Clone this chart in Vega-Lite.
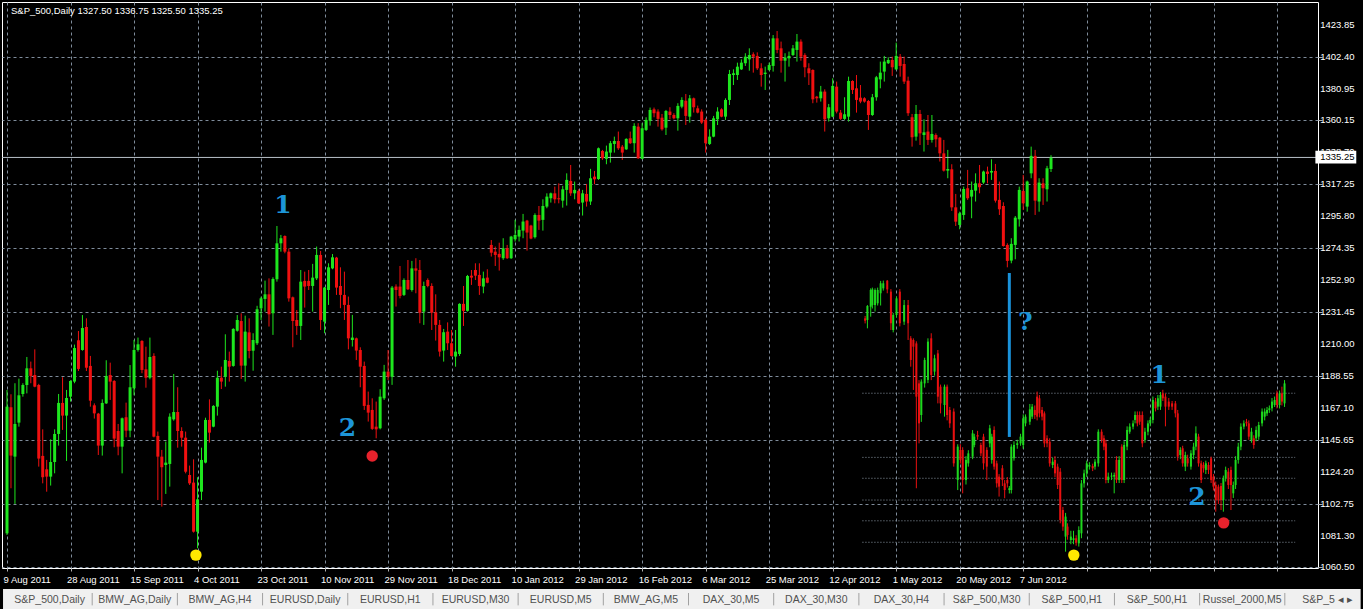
{
"$schema":"https://vega.github.io/schema/vega-lite/v6.json",
"width":1316,"height":566,
"autosize":{"type":"none"},
"padding":{"left":2,"top":2,"right":45,"bottom":41},
"background":"#000000",
"config":{"view":{"stroke":"#ffffff","strokeWidth":1},"font":"Liberation Sans",
 "axis":{"labelOverlap":false,"labelBound":false,"labelFlush":false,"grid":true,"gridColor":"#7f8c9b","gridDash":[3,3],"gridOpacity":1,"domain":false,"tickColor":"#b0b0b0","labelColor":"#ffffff"},
 "axisX":{"tickSize":3,"labelAlign":"left","labelPadding":3},
 "axisY":{"tickSize":4,"labelPadding":2}},
"datasets":{
"main":[
{"i":0,"o":1083.3,"h":1179.4,"l":1082.2,"c":1168.2},{"i":1,"o":1167.8,"h":1176.5,"l":1113.5,"c":1135.4},{"i":2,"o":1134.7,"h":1183.9,"l":1103.0,"c":1156.6},{"i":3,"o":1157.5,"h":1187.0,"l":1154.8,"c":1175.8},{"i":4,"o":1176.7,"h":1183.9,"l":1174.9,"c":1182.7},{"i":5,"o":1182.7,"h":1201.5,"l":1177.1,"c":1193.9},{"i":6,"o":1193.9,"h":1198.4,"l":1183.9,"c":1188.8},{"i":7,"o":1189.4,"h":1206.6,"l":1181.2,"c":1181.6},{"i":8,"o":1182.7,"h":1183.5,"l":1128.0,"c":1133.4},{"i":9,"o":1135.2,"h":1153.0,"l":1116.8,"c":1120.9},
{"i":10,"o":1126.2,"h":1132.5,"l":1111.2,"c":1121.3},{"i":11,"o":1121.3,"h":1146.3,"l":1115.3,"c":1131.1},{"i":12,"o":1131.1,"h":1153.0,"l":1123.5,"c":1149.9},{"i":13,"o":1149.9,"h":1176.7,"l":1142.1,"c":1170.7},{"i":14,"o":1170.7,"h":1187.9,"l":1152.6,"c":1162.2},{"i":15,"o":1162.2,"h":1179.4,"l":1131.8,"c":1174.0},{"i":16,"o":1174.9,"h":1185.9,"l":1171.6,"c":1185.4},{"i":17,"o":1185.0,"h":1209.8,"l":1183.9,"c":1207.5},{"i":18,"o":1212.7,"h":1218.9,"l":1192.1,"c":1193.5},{"i":19,"o":1206.2,"h":1229.6,"l":1205.7,"c":1220.9},
{"i":20,"o":1221.6,"h":1227.4,"l":1192.1,"c":1194.3},{"i":21,"o":1195.5,"h":1202.2,"l":1168.2,"c":1172.2},{"i":22,"o":1169.1,"h":1170.4,"l":1160.2,"c":1163.7},{"i":23,"o":1163.5,"h":1164.0,"l":1135.8,"c":1142.1},{"i":24,"o":1142.1,"h":1173.1,"l":1135.4,"c":1170.7},{"i":25,"o":1170.4,"h":1199.3,"l":1170.0,"c":1188.8},{"i":26,"o":1189.4,"h":1197.7,"l":1172.7,"c":1185.0},{"i":27,"o":1185.4,"h":1186.0,"l":1141.0,"c":1146.8},{"i":28,"o":1151.9,"h":1156.6,"l":1135.6,"c":1141.4},{"i":29,"o":1141.4,"h":1160.9,"l":1123.5,"c":1160.4},
{"i":30,"o":1161.1,"h":1170.9,"l":1147.7,"c":1152.1},{"i":31,"o":1152.1,"h":1196.1,"l":1147.7,"c":1181.2},{"i":32,"o":1180.5,"h":1212.9,"l":1175.8,"c":1206.2},{"i":33,"o":1206.2,"h":1214.5,"l":1205.1,"c":1210.0},{"i":34,"o":1212.2,"h":1212.8,"l":1190.6,"c":1192.8},{"i":35,"o":1193.2,"h":1208.4,"l":1180.9,"c":1187.6},{"i":36,"o":1187.6,"h":1214.5,"l":1186.5,"c":1201.5},{"i":37,"o":1202.2,"h":1204.0,"l":1147.6,"c":1148.1},{"i":38,"o":1148.6,"h":1151.5,"l":1105.6,"c":1134.7},{"i":39,"o":1134.7,"h":1139.2,"l":1101.2,"c":1127.6},
{"i":40,"o":1129.1,"h":1144.8,"l":1109.7,"c":1130.7},{"i":41,"o":1129.8,"h":1163.7,"l":1114.6,"c":1161.5},{"i":42,"o":1159.7,"h":1190.1,"l":1158.8,"c":1164.6},{"i":43,"o":1164.6,"h":1181.2,"l":1140.7,"c":1151.9},{"i":44,"o":1151.9,"h":1154.4,"l":1141.4,"c":1147.4},{"i":45,"o":1147.4,"h":1151.5,"l":1123.5,"c":1124.6},{"i":46,"o":1122.4,"h":1128.7,"l":1115.7,"c":1116.8},{"i":47,"o":1117.3,"h":1132.9,"l":1083.8,"c":1084.4},{"i":48,"o":1084.4,"h":1120.9,"l":1073.3,"c":1106.1},{"i":49,"o":1111.2,"h":1140.7,"l":1105.6,"c":1132.5},
{"i":50,"o":1130.7,"h":1160.8,"l":1130.2,"c":1159.3},{"i":51,"o":1159.3,"h":1173.1,"l":1144.1,"c":1150.8},{"i":52,"o":1154.8,"h":1169.2,"l":1154.4,"c":1168.7},{"i":53,"o":1168.2,"h":1192.3,"l":1162.2,"c":1187.6},{"i":54,"o":1187.6,"h":1195.0,"l":1180.0,"c":1185.0},{"i":55,"o":1188.3,"h":1216.7,"l":1181.6,"c":1199.5},{"i":56,"o":1198.8,"h":1205.1,"l":1185.0,"c":1195.0},{"i":57,"o":1195.5,"h":1220.8,"l":1195.0,"c":1220.3},{"i":58,"o":1219.1,"h":1229.6,"l":1218.5,"c":1226.3},{"i":59,"o":1225.6,"h":1230.8,"l":1186.8,"c":1195.7},
{"i":60,"o":1195.7,"h":1229.2,"l":1185.0,"c":1218.5},{"i":61,"o":1218.0,"h":1227.4,"l":1200.6,"c":1205.5},{"i":62,"o":1205.7,"h":1217.4,"l":1192.3,"c":1212.9},{"i":63,"o":1210.7,"h":1235.8,"l":1209.5,"c":1233.5},{"i":64,"o":1234.1,"h":1241.9,"l":1226.3,"c":1240.8},{"i":65,"o":1240.4,"h":1252.7,"l":1231.9,"c":1243.5},{"i":66,"o":1243.5,"h":1254.2,"l":1221.9,"c":1230.1},{"i":67,"o":1230.8,"h":1254.9,"l":1216.3,"c":1253.8},{"i":68,"o":1253.6,"h":1289.3,"l":1252.0,"c":1277.7},{"i":69,"o":1277.7,"h":1283.3,"l":1272.1,"c":1281.1},
{"i":70,"o":1282.6,"h":1283.0,"l":1271.0,"c":1272.1},{"i":71,"o":1272.1,"h":1274.3,"l":1238.6,"c":1240.8},{"i":72,"o":1241.5,"h":1242.0,"l":1208.0,"c":1225.6},{"i":73,"o":1226.3,"h":1233.0,"l":1216.3,"c":1222.3},{"i":74,"o":1222.3,"h":1259.8,"l":1212.9,"c":1252.0},{"i":75,"o":1252.5,"h":1258.7,"l":1234.6,"c":1248.7},{"i":76,"o":1252.5,"h":1259.8,"l":1246.4,"c":1249.1},{"i":77,"o":1249.1,"h":1263.9,"l":1231.9,"c":1254.7},{"i":78,"o":1254.2,"h":1275.5,"l":1253.1,"c":1269.9},{"i":79,"o":1269.9,"h":1272.6,"l":1219.6,"c":1226.3},
{"i":80,"o":1225.2,"h":1248.5,"l":1217.4,"c":1248.0},{"i":81,"o":1246.4,"h":1264.3,"l":1236.4,"c":1261.6},{"i":82,"o":1260.9,"h":1270.5,"l":1260.3,"c":1268.3},{"i":83,"o":1268.1,"h":1268.6,"l":1243.1,"c":1248.0},{"i":84,"o":1249.1,"h":1261.6,"l":1234.2,"c":1243.1},{"i":85,"o":1243.1,"h":1258.7,"l":1226.3,"c":1236.4},{"i":86,"o":1236.4,"h":1242.0,"l":1206.6,"c":1214.0},{"i":87,"o":1212.9,"h":1229.7,"l":1208.5,"c":1214.5},{"i":88,"o":1214.0,"h":1214.5,"l":1199.5,"c":1205.8},{"i":89,"o":1206.2,"h":1208.0,"l":1181.2,"c":1195.0},
{"i":90,"o":1195.5,"h":1198.4,"l":1166.0,"c":1168.7},{"i":91,"o":1169.4,"h":1178.3,"l":1158.2,"c":1164.2},{"i":92,"o":1166.0,"h":1173.8,"l":1152.6,"c":1153.3},{"i":93,"o":1154.8,"h":1171.6,"l":1147.0,"c":1153.0},{"i":94,"o":1153.7,"h":1179.9,"l":1153.0,"c":1174.9},{"i":95,"o":1173.8,"h":1196.2,"l":1172.7,"c":1191.7},{"i":96,"o":1191.7,"h":1206.2,"l":1186.1,"c":1188.3},{"i":97,"o":1188.3,"h":1249.1,"l":1182.8,"c":1248.0},{"i":98,"o":1248.7,"h":1250.2,"l":1235.3,"c":1246.4},{"i":99,"o":1248.7,"h":1262.5,"l":1240.8,"c":1242.4},
{"i":100,"o":1243.1,"h":1254.2,"l":1242.4,"c":1253.1},{"i":101,"o":1253.1,"h":1266.5,"l":1246.4,"c":1246.9},{"i":102,"o":1246.4,"h":1265.9,"l":1245.3,"c":1260.9},{"i":103,"o":1260.9,"h":1267.7,"l":1244.2,"c":1259.4},{"i":104,"o":1259.8,"h":1266.5,"l":1224.1,"c":1231.2},{"i":105,"o":1231.9,"h":1252.0,"l":1223.0,"c":1249.1},{"i":106,"o":1253.1,"h":1254.2,"l":1248.2,"c":1249.1},{"i":107,"o":1249.1,"h":1250.9,"l":1219.6,"c":1231.2},{"i":108,"o":1231.4,"h":1243.5,"l":1212.5,"c":1223.0},{"i":109,"o":1223.0,"h":1226.3,"l":1201.8,"c":1205.1},
{"i":110,"o":1205.8,"h":1220.3,"l":1198.4,"c":1218.1},{"i":111,"o":1218.5,"h":1224.7,"l":1206.2,"c":1210.7},{"i":112,"o":1210.7,"h":1219.6,"l":1201.8,"c":1202.2},{"i":113,"o":1201.8,"h":1219.6,"l":1195.0,"c":1205.1},{"i":114,"o":1203.5,"h":1237.5,"l":1202.2,"c":1237.1},{"i":115,"o":1237.1,"h":1249.1,"l":1222.3,"c":1232.4},{"i":116,"o":1232.4,"h":1256.5,"l":1231.9,"c":1255.8},{"i":117,"o":1256.0,"h":1259.8,"l":1249.8,"c":1254.7},{"i":118,"o":1259.8,"h":1264.3,"l":1253.1,"c":1256.0},{"i":119,"o":1256.5,"h":1264.3,"l":1243.1,"c":1249.1},
{"i":120,"o":1248.7,"h":1258.7,"l":1244.2,"c":1254.2},{"i":121,"o":1254.7,"h":1260.3,"l":1250.9,"c":1251.3},{"i":122,"o":1276.6,"h":1279.9,"l":1268.8,"c":1271.4},{"i":123,"o":1272.1,"h":1275.5,"l":1262.5,"c":1269.9},{"i":124,"o":1270.6,"h":1278.1,"l":1259.4,"c":1268.3},{"i":125,"o":1267.7,"h":1281.1,"l":1266.6,"c":1274.4},{"i":126,"o":1274.4,"h":1276.6,"l":1267.2,"c":1267.7},{"i":127,"o":1267.7,"h":1282.7,"l":1267.2,"c":1282.2},{"i":128,"o":1280.4,"h":1293.4,"l":1278.9,"c":1283.3},{"i":129,"o":1282.2,"h":1289.6,"l":1278.9,"c":1286.7},
{"i":130,"o":1286.2,"h":1297.4,"l":1281.1,"c":1292.3},{"i":131,"o":1292.9,"h":1293.4,"l":1272.8,"c":1284.9},{"i":132,"o":1289.6,"h":1290.1,"l":1280.4,"c":1280.9},{"i":133,"o":1281.8,"h":1297.8,"l":1280.9,"c":1296.7},{"i":134,"o":1296.7,"h":1302.7,"l":1286.7,"c":1292.9},{"i":135,"o":1293.4,"h":1307.2,"l":1286.2,"c":1302.7},{"i":136,"o":1302.3,"h":1311.2,"l":1301.2,"c":1309.0},{"i":137,"o":1307.9,"h":1311.7,"l":1305.0,"c":1311.2},{"i":138,"o":1311.2,"h":1315.7,"l":1304.5,"c":1307.2},{"i":139,"o":1307.9,"h":1317.9,"l":1304.5,"c":1307.2},
{"i":140,"o":1306.3,"h":1316.2,"l":1301.6,"c":1313.9},{"i":141,"o":1313.5,"h":1324.6,"l":1303.0,"c":1320.2},{"i":142,"o":1319.5,"h":1330.2,"l":1309.5,"c":1311.2},{"i":143,"o":1311.2,"h":1319.1,"l":1307.2,"c":1313.5},{"i":144,"o":1312.8,"h":1313.9,"l":1304.1,"c":1304.5},{"i":145,"o":1305.0,"h":1313.5,"l":1296.3,"c":1311.2},{"i":146,"o":1310.8,"h":1317.5,"l":1302.3,"c":1305.7},{"i":147,"o":1305.7,"h":1327.6,"l":1303.4,"c":1321.3},{"i":148,"o":1322.4,"h":1326.2,"l":1317.3,"c":1320.6},{"i":149,"o":1320.8,"h":1341.9,"l":1320.2,"c":1341.4},
{"i":150,"o":1339.6,"h":1340.3,"l":1333.6,"c":1334.7},{"i":151,"o":1334.3,"h":1343.2,"l":1330.7,"c":1339.2},{"i":152,"o":1338.5,"h":1346.3,"l":1331.8,"c":1344.8},{"i":153,"o":1344.3,"h":1349.2,"l":1338.5,"c":1346.3},{"i":154,"o":1346.3,"h":1352.6,"l":1340.3,"c":1341.4},{"i":155,"o":1342.5,"h":1343.6,"l":1333.6,"c":1338.5},{"i":156,"o":1340.7,"h":1348.1,"l":1340.3,"c":1347.7},{"i":157,"o":1348.1,"h":1352.6,"l":1344.3,"c":1344.8},{"i":158,"o":1344.8,"h":1358.2,"l":1338.5,"c":1356.4},{"i":159,"o":1355.9,"h":1358.2,"l":1334.3,"c":1334.7},
{"i":160,"o":1334.3,"h":1358.2,"l":1334.0,"c":1354.8},{"i":161,"o":1353.7,"h":1362.2,"l":1353.0,"c":1360.4},{"i":162,"o":1359.9,"h":1368.7,"l":1356.6,"c":1367.1},{"i":163,"o":1367.5,"h":1368.7,"l":1362.2,"c":1364.9},{"i":164,"o":1366.0,"h":1367.5,"l":1355.9,"c":1361.1},{"i":165,"o":1361.9,"h":1364.4,"l":1353.2,"c":1354.1},{"i":166,"o":1355.2,"h":1367.1,"l":1350.3,"c":1366.4},{"i":167,"o":1366.0,"h":1368.9,"l":1360.8,"c":1363.7},{"i":168,"o":1363.7,"h":1364.9,"l":1360.8,"c":1361.5},{"i":169,"o":1361.5,"h":1371.6,"l":1353.2,"c":1369.8},
{"i":170,"o":1369.3,"h":1375.6,"l":1368.2,"c":1373.8},{"i":171,"o":1373.3,"h":1377.8,"l":1357.0,"c":1363.1},{"i":172,"o":1362.6,"h":1377.1,"l":1358.6,"c":1374.9},{"i":173,"o":1374.9,"h":1375.4,"l":1365.3,"c":1368.9},{"i":174,"o":1368.2,"h":1370.0,"l":1364.8,"c":1365.3},{"i":175,"o":1366.0,"h":1367.5,"l":1357.7,"c":1358.6},{"i":176,"o":1360.4,"h":1361.5,"l":1338.5,"c":1344.8},{"i":177,"o":1344.3,"h":1354.1,"l":1343.6,"c":1349.2},{"i":178,"o":1349.2,"h":1363.1,"l":1348.8,"c":1361.5},{"i":179,"o":1360.8,"h":1368.9,"l":1357.0,"c":1366.0},
{"i":180,"o":1367.5,"h":1368.2,"l":1362.2,"c":1362.6},{"i":181,"o":1362.6,"h":1374.9,"l":1360.4,"c":1373.8},{"i":182,"o":1373.8,"h":1393.9,"l":1370.4,"c":1391.2},{"i":183,"o":1390.5,"h":1394.3,"l":1383.8,"c":1391.7},{"i":184,"o":1390.5,"h":1398.8,"l":1387.2,"c":1396.1},{"i":185,"o":1394.3,"h":1401.0,"l":1393.9,"c":1398.8},{"i":186,"o":1398.4,"h":1405.1,"l":1396.6,"c":1402.8},{"i":187,"o":1401.0,"h":1408.4,"l":1393.4,"c":1403.9},{"i":188,"o":1404.4,"h":1405.7,"l":1392.1,"c":1402.8},{"i":189,"o":1403.3,"h":1405.7,"l":1393.9,"c":1395.0},
{"i":190,"o":1395.0,"h":1398.4,"l":1382.7,"c":1390.5},{"i":191,"o":1391.2,"h":1396.1,"l":1380.5,"c":1392.1},{"i":192,"o":1393.9,"h":1398.8,"l":1393.4,"c":1397.2},{"i":193,"o":1396.6,"h":1417.3,"l":1392.8,"c":1415.1},{"i":194,"o":1415.1,"h":1420.0,"l":1405.1,"c":1407.3},{"i":195,"o":1408.4,"h":1412.9,"l":1392.1,"c":1400.1},{"i":196,"o":1400.1,"h":1405.1,"l":1386.1,"c":1402.2},{"i":197,"o":1401.7,"h":1406.2,"l":1396.1,"c":1403.3},{"i":198,"o":1403.9,"h":1410.6,"l":1403.3,"c":1408.4},{"i":199,"o":1407.3,"h":1418.0,"l":1399.5,"c":1412.9},
{"i":200,"o":1412.9,"h":1414.4,"l":1400.1,"c":1402.8},{"i":201,"o":1403.9,"h":1405.1,"l":1389.0,"c":1395.7},{"i":202,"o":1395.0,"h":1398.4,"l":1383.8,"c":1391.7},{"i":203,"o":1393.9,"h":1394.3,"l":1371.6,"c":1374.2},{"i":204,"o":1376.0,"h":1376.5,"l":1372.0,"c":1374.9},{"i":205,"o":1374.9,"h":1383.2,"l":1372.7,"c":1379.4},{"i":206,"o":1379.4,"h":1380.9,"l":1352.6,"c":1360.8},{"i":207,"o":1361.5,"h":1371.1,"l":1359.3,"c":1368.9},{"i":208,"o":1362.6,"h":1388.3,"l":1362.2,"c":1383.2},{"i":209,"o":1382.7,"h":1386.1,"l":1364.8,"c":1366.0},
{"i":210,"o":1365.3,"h":1367.1,"l":1360.4,"c":1361.1},{"i":211,"o":1361.1,"h":1375.6,"l":1360.4,"c":1364.2},{"i":212,"o":1362.6,"h":1389.4,"l":1359.3,"c":1386.5},{"i":213,"o":1386.5,"h":1387.0,"l":1377.8,"c":1380.5},{"i":214,"o":1381.6,"h":1390.5,"l":1365.3,"c":1373.8},{"i":215,"o":1375.3,"h":1383.8,"l":1371.6,"c":1372.7},{"i":216,"o":1374.9,"h":1375.6,"l":1372.0,"c":1372.7},{"i":217,"o":1373.1,"h":1373.8,"l":1353.7,"c":1363.7},{"i":218,"o":1363.7,"h":1377.8,"l":1363.1,"c":1375.6},{"i":219,"o":1375.6,"h":1389.9,"l":1373.3,"c":1389.0},
{"i":220,"o":1387.6,"h":1399.5,"l":1381.6,"c":1392.1},{"i":221,"o":1392.8,"h":1403.3,"l":1386.1,"c":1399.5},{"i":222,"o":1398.4,"h":1402.4,"l":1397.9,"c":1400.6},{"i":223,"o":1400.6,"h":1402.8,"l":1389.9,"c":1395.7},{"i":224,"o":1394.3,"h":1412.2,"l":1393.9,"c":1403.3},{"i":225,"o":1402.8,"h":1404.6,"l":1389.4,"c":1396.6},{"i":226,"o":1397.9,"h":1402.8,"l":1384.5,"c":1386.1},{"i":227,"o":1386.7,"h":1389.4,"l":1363.1,"c":1364.9},{"i":228,"o":1362.2,"h":1364.4,"l":1342.5,"c":1348.8},{"i":229,"o":1349.2,"h":1370.4,"l":1346.5,"c":1364.4},
{"i":230,"o":1364.4,"h":1367.1,"l":1343.6,"c":1351.4},{"i":231,"o":1350.3,"h":1360.8,"l":1339.2,"c":1352.1},{"i":232,"o":1352.6,"h":1363.7,"l":1343.6,"c":1347.0},{"i":233,"o":1347.0,"h":1363.7,"l":1345.2,"c":1351.0},{"i":234,"o":1350.3,"h":1351.4,"l":1342.1,"c":1347.4},{"i":235,"o":1348.5,"h":1349.0,"l":1332.5,"c":1338.0},{"i":236,"o":1338.0,"h":1347.0,"l":1325.8,"c":1326.4},{"i":237,"o":1326.4,"h":1340.3,"l":1321.3,"c":1327.5},{"i":238,"o":1327.3,"h":1330.7,"l":1299.4,"c":1301.8},{"i":239,"o":1301.8,"h":1310.8,"l":1289.3,"c":1292.2},
{"i":240,"o":1290.0,"h":1298.9,"l":1287.1,"c":1297.8},{"i":241,"o":1296.7,"h":1315.7,"l":1293.4,"c":1314.1},{"i":242,"o":1314.6,"h":1326.9,"l":1306.8,"c":1307.9},{"i":243,"o":1309.0,"h":1319.1,"l":1294.5,"c":1313.5},{"i":244,"o":1313.0,"h":1324.6,"l":1305.7,"c":1317.9},{"i":245,"o":1317.9,"h":1330.2,"l":1311.2,"c":1315.3},{"i":246,"o":1318.4,"h":1326.4,"l":1317.5,"c":1325.8},{"i":247,"o":1325.8,"h":1329.1,"l":1317.9,"c":1324.2},{"i":248,"o":1325.1,"h":1334.0,"l":1320.2,"c":1326.2},{"i":249,"o":1326.2,"h":1330.9,"l":1305.0,"c":1306.3},
{"i":250,"o":1306.8,"h":1319.1,"l":1296.7,"c":1300.5},{"i":251,"o":1302.7,"h":1305.2,"l":1275.5,"c":1275.9},{"i":252,"o":1276.6,"h":1277.7,"l":1261.6,"c":1265.9},{"i":253,"o":1266.1,"h":1281.1,"l":1264.3,"c":1277.3},{"i":254,"o":1276.6,"h":1296.0,"l":1267.0,"c":1294.9},{"i":255,"o":1293.8,"h":1315.7,"l":1288.9,"c":1313.5},{"i":256,"o":1312.8,"h":1323.5,"l":1300.1,"c":1304.5},{"i":257,"o":1302.3,"h":1319.7,"l":1298.9,"c":1319.1},{"i":258,"o":1324.6,"h":1342.5,"l":1321.3,"c":1336.3},{"i":259,"o":1336.3,"h":1340.3,"l":1296.7,"c":1306.3},
{"i":260,"o":1305.7,"h":1321.3,"l":1298.9,"c":1318.4},{"i":261,"o":1317.9,"h":1321.3,"l":1303.4,"c":1314.6},{"i":262,"o":1313.9,"h":1329.6,"l":1305.7,"c":1328.0},{"i":263,"o":1327.5,"h":1336.75,"l":1325.5,"c":1335.25}
],
"ov":[
{"i":216.17,"o":1227.4,"h":1229,"l":1224,"c":1225.8},{"i":216.75,"o":1226.3,"h":1236.3,"l":1220.7,"c":1235.7},{"i":217.58,"o":1235.2,"h":1247.5,"l":1228.5,"c":1246.4},{"i":218.0,"o":1236.3,"h":1248,"l":1234,"c":1246.8},{"i":218.67,"o":1236.3,"h":1247.5,"l":1232,"c":1246.4},{"i":219.33,"o":1237.5,"h":1248,"l":1236,"c":1246.4},{"i":220.08,"o":1244.2,"h":1252.5,"l":1236,"c":1250.9},{"i":220.75,"o":1247.5,"h":1252.7,"l":1246,"c":1250.9},{"i":221.75,"o":1252.6,"h":1253.1,"l":1244.2,"c":1246.8},{"i":222.67,"o":1245.3,"h":1247,"l":1219.6,"c":1224.1},
{"i":223.25,"o":1219.6,"h":1231,"l":1218,"c":1229.6},{"i":224.08,"o":1229.6,"h":1242,"l":1228,"c":1240.8},{"i":224.92,"o":1245.3,"h":1247,"l":1222,"c":1224.1},{"i":226.0,"o":1225.2,"h":1239.7,"l":1223,"c":1236.3},{"i":227.0,"o":1236.3,"h":1239.7,"l":1212.9,"c":1224.1},{"i":227.67,"o":1214.0,"h":1215.5,"l":1195.0,"c":1199.5},{"i":228.33,"o":1212.9,"h":1214,"l":1179.4,"c":1208.4},{"i":229.08,"o":1210.6,"h":1212,"l":1113.5,"c":1174.9},{"i":229.75,"o":1183.8,"h":1186,"l":1143.6,"c":1157.0},{"i":230.33,"o":1162.6,"h":1186.5,"l":1158,"c":1185.0},
{"i":231.17,"o":1183.8,"h":1201,"l":1181,"c":1199.5},{"i":232.0,"o":1186.1,"h":1214,"l":1184,"c":1211.8},{"i":232.83,"o":1214.0,"h":1217.4,"l":1186,"c":1189.4},{"i":233.67,"o":1191.7,"h":1203,"l":1189,"c":1200.6},{"i":234.5,"o":1203.9,"h":1206.2,"l":1170.4,"c":1174.9},{"i":235.17,"o":1181.6,"h":1183,"l":1163.7,"c":1170.4},{"i":236.17,"o":1169.3,"h":1183,"l":1161.5,"c":1181.6},{"i":236.83,"o":1181.6,"h":1183,"l":1159,"c":1162.6},{"i":237.5,"o":1166.0,"h":1168,"l":1154,"c":1157.0},{"i":238.5,"o":1164.9,"h":1167,"l":1128,"c":1130.2},
{"i":239.5,"o":1119.0,"h":1143,"l":1112.3,"c":1141.4},{"i":240.17,"o":1139.2,"h":1143,"l":1130,"c":1132.5},{"i":240.75,"o":1139.2,"h":1141,"l":1110.1,"c":1119.0},{"i":241.58,"o":1119.0,"h":1135,"l":1116,"c":1132.5},{"i":242.17,"o":1130.2,"h":1139,"l":1128,"c":1136.9},{"i":243.25,"o":1134.7,"h":1152.5,"l":1133,"c":1150.3},{"i":243.67,"o":1142.5,"h":1150,"l":1141,"c":1148.1},{"i":244.5,"o":1149.2,"h":1152,"l":1146,"c":1148.1},{"i":245.33,"o":1142.5,"h":1144,"l":1135,"c":1136.9},{"i":246.0,"o":1148.1,"h":1150,"l":1126,"c":1130.2},
{"i":246.83,"o":1139.2,"h":1141,"l":1119,"c":1128.0},{"i":247.58,"o":1143.6,"h":1156,"l":1141,"c":1153.7},{"i":248.08,"o":1132.5,"h":1150,"l":1130,"c":1148.1},{"i":248.67,"o":1152.6,"h":1155,"l":1126,"c":1128.0},{"i":249.33,"o":1130.2,"h":1132,"l":1114,"c":1116.8},{"i":249.92,"o":1121.3,"h":1123,"l":1107.9,"c":1114.6},{"i":250.75,"o":1126.9,"h":1129,"l":1115,"c":1119.0},{"i":251.33,"o":1116.8,"h":1119,"l":1106.8,"c":1112.3},{"i":252.0,"o":1119.0,"h":1121,"l":1114,"c":1116.8},{"i":252.5,"o":1112.3,"h":1115,"l":1110,"c":1113.5},
{"i":253.0,"o":1112.3,"h":1143,"l":1110,"c":1141.4},{"i":253.67,"o":1133.6,"h":1145,"l":1132,"c":1142.5},{"i":254.5,"o":1142.5,"h":1146,"l":1140,"c":1143.6},{"i":255.33,"o":1143.6,"h":1150,"l":1142,"c":1148.1},{"i":256.0,"o":1142.5,"h":1163,"l":1140,"c":1160.4},{"i":256.58,"o":1157.0,"h":1163,"l":1155,"c":1161.5},{"i":257.67,"o":1158.1,"h":1170,"l":1156,"c":1166.4},{"i":258.25,"o":1161.5,"h":1170,"l":1160,"c":1168.2},{"i":258.92,"o":1166.0,"h":1169,"l":1160,"c":1162.6},{"i":259.5,"o":1174.9,"h":1178.3,"l":1159,"c":1161.5},
{"i":260.08,"o":1173.8,"h":1176,"l":1161,"c":1163.7},{"i":260.75,"o":1166.0,"h":1168,"l":1159,"c":1161.5},{"i":261.33,"o":1163.7,"h":1165,"l":1141,"c":1143.6},{"i":262.0,"o":1147.0,"h":1149,"l":1141,"c":1143.6},{"i":262.67,"o":1144.7,"h":1147,"l":1128,"c":1130.2},{"i":263.42,"o":1129.1,"h":1134,"l":1127,"c":1131.3},{"i":264.0,"o":1132.5,"h":1135,"l":1121,"c":1123.5},{"i":264.67,"o":1128.0,"h":1130,"l":1113,"c":1115.7},{"i":265.33,"o":1124.6,"h":1127,"l":1090,"c":1092.2},{"i":266.0,"o":1098.9,"h":1101,"l":1085,"c":1087.8},
{"i":266.67,"o":1081.1,"h":1097,"l":1071,"c":1094.5},{"i":267.17,"o":1087.8,"h":1090,"l":1079,"c":1082.2},{"i":268.0,"o":1078.8,"h":1085,"l":1076,"c":1081.1},{"i":268.67,"o":1078.8,"h":1085,"l":1076,"c":1080.0},{"i":269.33,"o":1080.0,"h":1082,"l":1075,"c":1077.1},{"i":270.0,"o":1076.6,"h":1088,"l":1074.4,"c":1085.5},{"i":270.67,"o":1083.3,"h":1119,"l":1080,"c":1116.8},{"i":271.33,"o":1116.8,"h":1126,"l":1114,"c":1123.5},{"i":272.0,"o":1123.5,"h":1132,"l":1121,"c":1130.2},{"i":272.67,"o":1128.0,"h":1131,"l":1126,"c":1129.1},
{"i":273.5,"o":1128.4,"h":1130,"l":1125,"c":1126.9},{"i":274.08,"o":1128.0,"h":1133,"l":1126,"c":1131.3},{"i":274.92,"o":1130.2,"h":1153,"l":1128,"c":1151.4},{"i":275.75,"o":1151.4,"h":1153,"l":1144,"c":1145.9},{"i":276.33,"o":1147.0,"h":1149,"l":1139,"c":1141.4},{"i":276.83,"o":1143.6,"h":1146,"l":1116.8,"c":1119.0},{"i":277.42,"o":1119.0,"h":1124,"l":1117,"c":1121.3},{"i":278.25,"o":1121.3,"h":1124,"l":1119,"c":1122.0},{"i":278.92,"o":1121.3,"h":1124,"l":1110.1,"c":1122.4},{"i":279.5,"o":1132.5,"h":1135,"l":1117,"c":1119.0},
{"i":280.17,"o":1119.0,"h":1135,"l":1117,"c":1132.5},{"i":280.83,"o":1141.4,"h":1143,"l":1117,"c":1119.0},{"i":281.42,"o":1119.0,"h":1145,"l":1117,"c":1142.5},{"i":282.17,"o":1141.4,"h":1155,"l":1139,"c":1152.6},{"i":282.83,"o":1151.4,"h":1157,"l":1150,"c":1154.8},{"i":283.67,"o":1154.8,"h":1159,"l":1153,"c":1157.0},{"i":284.17,"o":1159.3,"h":1165,"l":1157,"c":1162.6},{"i":284.75,"o":1162.6,"h":1165,"l":1155,"c":1157.0},{"i":285.33,"o":1162.6,"h":1165,"l":1156,"c":1158.1},{"i":286.0,"o":1162.6,"h":1165,"l":1141,"c":1143.6},
{"i":286.67,"o":1145.9,"h":1154,"l":1144,"c":1151.4},{"i":287.42,"o":1151.4,"h":1159,"l":1149,"c":1157.0},{"i":288.0,"o":1157.0,"h":1161,"l":1155,"c":1159.3},{"i":288.67,"o":1159.3,"h":1175,"l":1157,"c":1172.7},{"i":289.33,"o":1171.6,"h":1174,"l":1165,"c":1167.1},{"i":289.92,"o":1168.2,"h":1176,"l":1166,"c":1173.8},{"i":290.58,"o":1168.2,"h":1178,"l":1166,"c":1176.0},{"i":291.17,"o":1177.1,"h":1179.5,"l":1172,"c":1173.8},{"i":291.83,"o":1174.9,"h":1177,"l":1155,"c":1168.2},{"i":292.67,"o":1171.6,"h":1174,"l":1166,"c":1168.2},
{"i":293.5,"o":1170.4,"h":1172,"l":1166,"c":1168.2},{"i":294.33,"o":1170.4,"h":1172,"l":1161,"c":1163.7},{"i":294.92,"o":1163.7,"h":1166,"l":1132,"c":1134.7},{"i":295.58,"o":1135.8,"h":1141,"l":1133,"c":1139.2},{"i":296.17,"o":1140.3,"h":1142,"l":1128,"c":1130.2},{"i":296.83,"o":1128.0,"h":1138,"l":1125,"c":1135.8},{"i":297.42,"o":1133.6,"h":1136,"l":1128,"c":1130.2},{"i":298.25,"o":1128.0,"h":1139,"l":1126,"c":1136.9},{"i":298.92,"o":1135.8,"h":1144,"l":1133,"c":1141.4},{"i":299.5,"o":1141.4,"h":1155,"l":1139,"c":1150.3},
{"i":300.17,"o":1148.1,"h":1150,"l":1128,"c":1130.2},{"i":300.83,"o":1130.2,"h":1132,"l":1117,"c":1119.0},{"i":301.42,"o":1129.1,"h":1131,"l":1124,"c":1126.9},{"i":302.0,"o":1125.8,"h":1132,"l":1123,"c":1130.2},{"i":302.67,"o":1129.1,"h":1131,"l":1123,"c":1125.8},{"i":303.33,"o":1133.6,"h":1134.7,"l":1117,"c":1119.0},{"i":303.92,"o":1121.3,"h":1123,"l":1112,"c":1114.6},{"i":304.5,"o":1115.7,"h":1118,"l":1097.8,"c":1105.6},{"i":305.17,"o":1114.6,"h":1116,"l":1103,"c":1105.6},{"i":305.83,"o":1115.0,"h":1117,"l":1098.9,"c":1105.6},
{"i":306.42,"o":1105.6,"h":1122,"l":1097.8,"c":1120.2},{"i":307.0,"o":1120.2,"h":1128,"l":1118,"c":1125.8},{"i":307.67,"o":1124.6,"h":1127,"l":1113,"c":1115.7},{"i":308.33,"o":1125.8,"h":1128,"l":1098.9,"c":1115.7},{"i":308.92,"o":1110.1,"h":1118,"l":1107,"c":1115.7},{"i":309.5,"o":1115.7,"h":1135,"l":1113,"c":1132.5},{"i":310.17,"o":1132.5,"h":1144,"l":1130,"c":1141.4},{"i":310.83,"o":1141.4,"h":1157,"l":1139,"c":1154.8},{"i":311.58,"o":1154.8,"h":1159,"l":1153,"c":1157.0},{"i":312.25,"o":1158.1,"h":1160,"l":1155,"c":1157.0},
{"i":312.83,"o":1157.0,"h":1159,"l":1146,"c":1148.1},{"i":313.5,"o":1145.9,"h":1154,"l":1144,"c":1151.4},{"i":314.08,"o":1147.0,"h":1149,"l":1140,"c":1142.5},{"i":314.67,"o":1147.0,"h":1155,"l":1145,"c":1152.6},{"i":315.33,"o":1148.1,"h":1158,"l":1146,"c":1155.9},{"i":316.17,"o":1157.0,"h":1167,"l":1155,"c":1164.9},{"i":316.83,"o":1161.5,"h":1167,"l":1159,"c":1164.9},{"i":317.42,"o":1163.7,"h":1168,"l":1162,"c":1166.0},{"i":318.0,"o":1166.0,"h":1169,"l":1164,"c":1167.1},{"i":318.67,"o":1167.1,"h":1174,"l":1165,"c":1171.6},
{"i":319.33,"o":1169.3,"h":1175,"l":1168,"c":1172.7},{"i":319.92,"o":1177.1,"h":1179,"l":1167,"c":1169.3},{"i":320.58,"o":1169.3,"h":1179,"l":1167,"c":1177.1},{"i":321.17,"o":1177.1,"h":1181.6,"l":1169,"c":1171.6},{"i":321.83,"o":1170.4,"h":1186,"l":1168,"c":1183.8}
],
"notes":[{"label":"1","i":69.5,"v":1303.4},{"label":"2","i":85.75,"v":1153.9},{"label":"?","i":256.5,"v":1225.0},{"label":"1","i":290.25,"v":1189.4},{"label":"2","i":299.75,"v":1107.6}],
"dots":[{"kind":"low","i":47.6,"v":1068.7},{"kind":"high","i":92,"v":1135.1},{"kind":"low","i":268.75,"v":1068.7},{"kind":"high","i":306.5,"v":1090.3}],
"stroke":[{"i":252.5,"top":1257.8,"bottom":1147.9}],
"levels":[{"level":1177.2},{"level":1134.2},{"level":1120.2},{"level":1105.6},{"level":1091.7},{"level":1077.3}],
"yticks":[{"tick":1423.85},{"tick":1402.4},{"tick":1380.95},{"tick":1360.15},{"tick":1338.7},{"tick":1317.25},{"tick":1295.8},{"tick":1274.35},{"tick":1252.9},{"tick":1231.45},{"tick":1210},{"tick":1188.55},{"tick":1167.1},{"tick":1145.65},{"tick":1124.2},{"tick":1102.75},{"tick":1081.3},{"tick":1060.5}],
"tabs":[{"id":1,"tab":"S&P_500,Daily"},{"id":2,"tab":"BMW_AG,Daily"},{"id":3,"tab":"BMW_AG,H4"},{"id":4,"tab":"EURUSD,Daily"},{"id":5,"tab":"EURUSD,H1"},{"id":6,"tab":"EURUSD,M30"},{"id":7,"tab":"EURUSD,M5"},{"id":8,"tab":"BMW_AG,M5"},{"id":9,"tab":"DAX_30,M5"},{"id":10,"tab":"DAX_30,M30"},{"id":11,"tab":"DAX_30,H4"},{"id":12,"tab":"S&P_500,M30"},{"id":13,"tab":"S&P_500,H1"},{"id":14,"tab":"S&P_500,H1"},{"id":15,"tab":"Russel_2000,M5"},{"id":16,"tab":"S&P_5  ◂  ▸"}]
},
"layer":[
{"layer":[
{"data":{"name":"main"},"mark":{"type":"rule","strokeWidth":1},
 "encoding":{
  "x":{"field":"i","type":"quantitative","title":null,"scale":{"domain":[0,329],"nice":false,"zero":false},
   "axis":{"title":null,"labelFont":"Liberation Sans","labelFontSize":9.5,"labelOffset":-4,"values":[0,8,16,24,32,40,48,56,64,72,80,88,96,104,112,120,128,136,144,152,160,168,176,184,192,200,208,216,224,232,240,248,256,264,272,280,288,296,304,312,320,328],
    "labelExpr":"datum.value % 16 == 0 && datum.value <= 256 ? ['9 Aug 2011','28 Aug 2011','15 Sep 2011','4 Oct 2011','23 Oct 2011','10 Nov 2011','29 Nov 2011','18 Dec 2011','10 Jan 2012','29 Jan 2012','16 Feb 2012','6 Mar 2012','25 Mar 2012','12 Apr 2012','1 May 2012','20 May 2012','7 Jun 2012'][datum.value / 16] : ''"}},
  "y":{"field":"l","type":"quantitative","title":null,"scale":{"domain":[1060.05,1439.45],"nice":false,"zero":false},
   "axis":{"title":null,"orient":"right","values":[1423.85,1402.4,1380.95,1360.15,1338.7,1317.25,1295.8,1274.35,1252.9,1231.45,1210,1188.55,1167.1,1145.65,1124.2,1102.75,1081.3,1060.5],"labels":false}},
  "y2":{"field":"h"},
  "color":{"condition":{"test":"datum.c >= datum.o","value":"#1ee61e"},"value":"#f01010"}}},
{"data":{"name":"yticks"},"mark":{"type":"text","color":"#ffffff","fontSize":9.5,"font":"Liberation Sans","align":"left","baseline":"middle"},
 "encoding":{"x":{"datum":330.8,"type":"quantitative"},"y":{"field":"tick","type":"quantitative","title":null},"text":{"field":"tick","type":"quantitative","format":".2f"}}},
{"data":{"name":"levels"},"mark":{"type":"rule","color":"#8a96a3","strokeDash":[1,2]},
 "encoding":{"x":{"datum":215.5,"type":"quantitative"},"x2":{"datum":324.5},"y":{"field":"level","type":"quantitative","title":null}}},
{"data":{"values":[{}]},"mark":{"type":"rule","color":"#b8c0c8","strokeWidth":1},
 "encoding":{"y":{"datum":1335.25,"type":"quantitative"}}},
{"data":{"name":"main"},"mark":{"type":"bar","size":3},
 "encoding":{"x":{"field":"i","type":"quantitative","title":null},"y":{"field":"o","type":"quantitative","title":null},"y2":{"field":"c"},
  "color":{"condition":{"test":"datum.c >= datum.o","value":"#1ee61e"},"value":"#f01010"}}},
{"data":{"name":"ov"},"mark":{"type":"rule","strokeWidth":1},
 "encoding":{"x":{"field":"i","type":"quantitative","title":null},"y":{"field":"l","type":"quantitative","title":null},"y2":{"field":"h"},
  "color":{"condition":{"test":"datum.c >= datum.o","value":"#1ed81e"},"value":"#e81010"}}},
{"data":{"name":"ov"},"mark":{"type":"bar","size":2},
 "encoding":{"x":{"field":"i","type":"quantitative","title":null},"y":{"field":"o","type":"quantitative","title":null},"y2":{"field":"c"},
  "color":{"condition":{"test":"datum.c >= datum.o","value":"#1ed81e"},"value":"#e81010"}}},
{"data":{"name":"stroke"},"mark":{"type":"rule","color":"#1a92da","strokeWidth":3},
 "encoding":{"x":{"field":"i","type":"quantitative","title":null},"y":{"field":"top","type":"quantitative","title":null},"y2":{"field":"bottom"}}},
{"data":{"name":"dots"},"mark":{"type":"point","filled":true,"size":130,"opacity":1},
 "encoding":{"x":{"field":"i","type":"quantitative","title":null},"y":{"field":"v","type":"quantitative","title":null},
  "color":{"condition":{"test":"datum.kind == 'low'","value":"#ffe800"},"value":"#e8222c"}}},
{"data":{"name":"notes"},"mark":{"type":"text","font":"DejaVu Serif","fontWeight":"bold","fontSize":25,"color":"#1d95d8","align":"center","baseline":"middle"},
 "encoding":{"x":{"field":"i","type":"quantitative","title":null},"y":{"field":"v","type":"quantitative","title":null},"text":{"field":"label"}}},
{"data":{"values":[{}]},"mark":{"type":"text","color":"#ffffff","fontSize":9.5,"font":"Liberation Sans","align":"left","baseline":"middle"},
 "encoding":{"x":{"datum":1.0,"type":"quantitative"},"y":{"datum":1433.4,"type":"quantitative"},"text":{"value":"S&P_500,Daily  1327.50 1336.75 1325.50 1335.25"}}},
{"data":{"values":[{}]},"mark":{"type":"rect","color":"#ffffff"},
 "encoding":{"x":{"datum":329.6,"type":"quantitative"},"x2":{"datum":339.9},"y":{"datum":1339.7,"type":"quantitative"},"y2":{"datum":1331.2}}},
{"data":{"values":[{}]},"mark":{"type":"text","color":"#000000","fontSize":9.5,"font":"Liberation Sans","align":"left","baseline":"middle"},
 "encoding":{"x":{"datum":330.8,"type":"quantitative"},"y":{"datum":1335.3,"type":"quantitative"},"text":{"value":"1335.25"}}},
{"data":{"values":[{}]},"mark":{"type":"rect","color":"#f0f0f0"},
 "encoding":{"x":{"datum":-1,"type":"quantitative"},"x2":{"datum":341},"y":{"datum":1046,"type":"quantitative"},"y2":{"datum":1030}}}
]},
{"data":{"name":"tabs"},"layer":[
 {"transform":[{"filter":"datum.id > 1"}],"mark":{"type":"rule","color":"#a0a0a0"},
  "encoding":{"x":{"field":"id","type":"ordinal","bandPosition":0,"axis":null,"scale":{"type":"band","range":[5,1368],"paddingInner":0,"paddingOuter":0}},
   "y":{"datum":1043.3,"type":"quantitative","axis":null,"scale":{"domain":[1060.05,1439.45],"nice":false,"zero":false}},"y2":{"datum":1035}}},
 {"mark":{"type":"text","color":"#505050","fontSize":10.5,"font":"Liberation Sans","align":"center","baseline":"middle"},
  "encoding":{"x":{"field":"id","type":"ordinal","axis":null,"scale":{"type":"band","range":[5,1368],"paddingInner":0,"paddingOuter":0}},
   "y":{"datum":1038.4,"type":"quantitative","axis":null,"scale":{"domain":[1060.05,1439.45],"nice":false,"zero":false}},"text":{"field":"tab"}}}
]}
],
"resolve":{"scale":{"x":"independent","y":"independent"}}
}
